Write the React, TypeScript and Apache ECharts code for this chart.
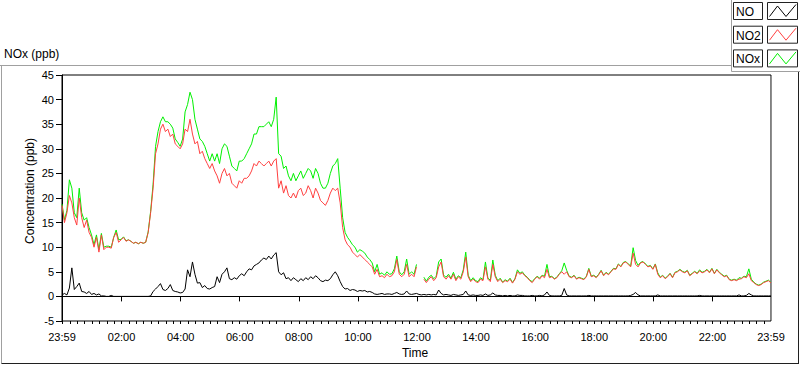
import React, { useEffect, useRef } from "react";
import * as echarts from "echarts";

// Sampling step of the series (minutes after 23:59 of previous day)
const STEP_MIN = 5;

const NO: number[] = [
  0.3, 0.6, 0.3, 1.7, 5.8, 1.4, 2, 2.7, 1, 0.9,
  0.6, 1, 0.4, 0.6, 0.3, 0.5, 0.1, 0.1, 0, 0,
  0.2, 0, 0, 0, 0, 0, 0, 0, 0, 0,
  0, 0, 0, 0, 0, 0, 0.1, 1, 1.5, 2,
  2.6, 1.4, 1.2, 1.6, 2.4, 1.2, 1, 0.9, 0.7, 0.8,
  1.5, 5.4, 4, 7, 4.5, 2.7, 2.8, 1.8, 2.2, 1.6,
  1.5, 1.8, 2, 4, 2.8, 4.5, 5, 5.8, 3.6, 3.4,
  3.8, 3.5, 4.2, 4.6, 4.2, 5, 5.6, 5.4, 6.2, 6.5,
  6.8, 7.4, 7.8, 7.5, 8.2, 7.6, 8.4, 8.9, 5, 4.4,
  4.8, 3.6, 3.8, 3.2, 3.8, 3.4, 3, 3.6, 3.2, 3.8,
  3.4, 4, 3.6, 4.2, 3.8, 3.2, 3, 3.3, 3.2, 3.6,
  4.4, 5, 4.2, 3, 2, 1.5, 1.6, 1.2, 1.4, 1.3,
  1, 1.2, 1.1, 1.2, 0.9, 1, 0.8, 0.5, 0.4, 0.5,
  0.6, 0.4, 0.5, 0.5, 0.4, 0.6, 0.8, 0.5, 0.4, 0.5,
  1.1, 0.5, 0.4, 0.5, 0.6, 0.4, 0.3, 0.4, 0.3, 0.4,
  0.3, 0.4, 0.3, 1.3, 0.6, 0.3, 0.4, 0.3, 0.2, 0.4,
  0.3, 0.2, 0.3, 0.4, 1.1, 0.3, 0.2, 0.3, 0.2, 0.2,
  0.3, 0.2, 0.5, 0.2, 0.3, 0.7, 0.3, 0.2, 0.2, 0.1,
  0.2, 0.1, 0.2, 0.1, 0.1, 0.3, 0.2, 0.2, 0.1, 0.1,
  0.1, 0.2, 0.1, 0.1, 0.2, 0.1, 0.3, 0.9, 0.2, 0.1,
  0.1, 0.1, 0.1, 0.2, 1.6, 0.3, 0.1, 0.1, 0.1, 0.1,
  0.1, 0.1, 0.1, 0.1, 0.2, 0.1, 0.1, 0.1, 0.1, 0.1,
  0.1, 0.1, 0.1, 0.1, 0.1, 0.1, 0.1, 0.1, 0.1, 0.1,
  0.1, 0.2, 0.4, 0.8, 0.3, 0.1, 0.1, 0.1, 0.1, 0.1,
  0.1, 0.1, 0.3, 0.1, 0.1, 0.1, 0.1, 0.1, 0.1, 0.1,
  0.1, 0.1, 0.1, 0.1, 0.1, 0.1, 0.1, 0.1, 0.1, 0.2,
  0.1, 0.1, 0.1, 0.1, 0.1, 0.1, 0.1, 0.1, 0.1, 0.1,
  0.1, 0.1, 0.1, 0.1, 0.1, 0.3, 0.1, 0.1, 0.2, 0.6,
  0.3, 0.1, 0.1, 0.1, 0.1, 0.1, 0.1, 0.1, 0.1,
];

const NO2: (number | null)[] = [
  18.5, 15, 17, 20.5, 19, 16, 14.5, 20, 16, 14,
  15.5, 13, 12, 10, 12, 9, 12.5, 9.5, 10, 10,
  9.8, 12, 13, 11, 11.5, 12, 11.2, 11.5, 11.2, 10.8,
  11, 10.7, 11, 10.8, 11, 13, 17, 22, 29, 31,
  34, 35, 33.5, 34, 32.5, 33, 31, 30.5, 30, 31,
  34, 33.5, 36, 33, 31, 31.5, 29, 29.5, 28, 27,
  26, 27, 25.5, 24.5, 23, 25, 26, 24.5, 25, 23,
  22.5, 22, 23.5, 23, 24, 24, 24.5, 25.5, 27, 26.5,
  27.5, 27, 26.5, 27, 27.5, 26.5, 27.5, 28, 22, 23.5,
  21, 22.5, 20.5, 20, 21, 20, 21.5, 22, 20.5, 21,
  22.5, 21.5, 20, 22, 21, 19.5, 19, 18.5, 19.5, 21,
  22, 21.5, 22, 19, 14, 11.5, 10.5, 10, 9, 8.5,
  8, 8.5, 8, 7.5, 7, 6.5, 6, 4.5, 5.5, 4,
  4.2, 3.8, 4.5, 4, 4.2, 5, 7.5, 4.5, 4, 4.5,
  6.5, 4, 4.5, 4, 6, null, null, 3.5, 2.8, 3.5,
  4, 3.2, 3.8, 6, 7, 4, 3.5, 4.2, 3.5, 4.5,
  3.2, 4, 3.5, 5, 8, 4, 3, 3.5, 3, 2.8,
  3.5, 3.2, 6, 3.5, 3, 6.5, 4, 3, 3.5, 2.8,
  3.2, 3, 3.5, 2.7, 3.5, 5, 4.5, 4.8, 4.2, 3.8,
  3.2, 2.8, 3.5, 4, 3.5, 4.2, 3.8, 5.5, 3.8, 4,
  3.5, 3.8, 4.5, 5, 4.5, 5, 4, 3.8, 4.2, 3.5,
  3.8, 3.6, 3.4, 4, 5.5, 4, 4.2, 3.8, 4.4, 5.2,
  4.2, 4.8, 4.4, 5, 5.6, 5.5, 6.5, 6, 6.8, 7,
  6.5, 6, 8.8, 6.5, 6, 6.8, 7, 6.5, 6, 6.2,
  5.5, 6.5, 4.5, 3.8, 4.2, 3.6, 4, 4.6, 3.8, 4.8,
  5, 5.4, 5, 4.8, 5.2, 4.2, 4.6, 5, 4.6, 5.2,
  4.8, 5, 5.4, 4.8, 5.6, 4.6, 5.4, 4.8, 4.4, 4,
  4.2, 3.4, 3.2, 3.4, 3.2, 3.5, 3.6, 4, 3.8, 4.6,
  3.2, 2.8, 2.4, 2.2, 2.4, 2.8, 3, 3.2, 2.7,
];

const NOX: (number | null)[] = [
  18.8, 15.5, 17.5, 23.7, 22, 17, 16, 22, 17, 15.5,
  16, 14, 12.5, 10.5, 12.5, 9.5, 12.8, 10, 10.2, 10.2,
  10, 12, 13.5, 11.5, 11.6, 12.1, 11.3, 11.5, 11.2, 10.8,
  11, 10.7, 11, 10.8, 11, 13.1, 17.3, 22.8, 30.5, 33.5,
  35.5, 36.5, 35.5, 35.5, 35, 34.2, 32, 31.3, 30.5, 32,
  37.5, 39, 41.5, 40, 36, 34, 32, 31.5, 30.5, 29,
  27.5, 29, 27.5, 29, 27, 30, 31, 30.5, 28.5, 26.5,
  26, 25.5, 27.5, 27.5, 28, 29, 30, 31, 33, 33,
  34.5, 34.5, 34.5, 35, 35.5, 34.5, 36, 40.5, 29, 28.5,
  26, 26.5, 24.5, 23.5, 25, 23.5, 24.5, 25.5, 24, 25,
  26, 25.5, 24, 26, 25, 23, 22, 22, 23, 25,
  26.5, 27, 28, 22, 16, 13, 12, 11.3, 10.5, 10,
  9, 9.5, 9.2, 8.8, 8, 7.5, 6.8, 5, 6.5, 4.5,
  4.8, 4.3, 5, 4.5, 4.6, 5.6, 8.2, 5, 4.4, 5,
  7.6, 4.5, 5, 4.5, 6.5, null, null, 3.9, 3.1, 3.9,
  4.3, 3.6, 4.1, 7, 7.6, 4.3, 3.9, 4.5, 3.7, 4.9,
  3.5, 4.2, 3.8, 5.4, 9, 4.3, 3.2, 3.8, 3.2, 3,
  3.8, 3.4, 7, 3.7, 3.3, 7.4, 4.3, 3.2, 3.7, 2.9,
  3.4, 3.1, 3.7, 2.8, 3.6, 5.4, 4.7, 5, 4.3, 3.9,
  3.3, 3, 3.6, 4.1, 3.7, 4.3, 4.1, 6.5, 4, 4.1,
  3.6, 3.9, 4.6, 5.2, 6.8, 5.3, 4.1, 3.9, 4.3, 3.6,
  3.9, 3.7, 3.5, 4.1, 5.7, 4.1, 4.3, 3.9, 4.5, 5.3,
  4.3, 4.9, 4.5, 5.1, 5.7, 5.6, 6.6, 6.1, 6.9, 7.1,
  6.6, 6.2, 9.9, 7.3, 6.3, 6.9, 7.1, 6.6, 6.1, 6.3,
  5.6, 6.6, 4.8, 3.9, 4.3, 3.7, 4.1, 4.7, 3.9, 4.9,
  5.1, 5.5, 5.1, 4.9, 5.3, 4.3, 4.7, 5.1, 4.7, 5.4,
  4.9, 5.1, 5.5, 4.9, 5.7, 4.7, 5.5, 4.9, 4.5, 4.1,
  4.3, 3.5, 3.3, 3.5, 3.3, 3.8, 3.7, 4.1, 4, 5.6,
  3.5, 2.9, 2.5, 2.3, 2.5, 2.9, 3.1, 3.3, 2.8,
];

// X axis: minutes after 23:59
const X_MIN = 0;
const X_MAX = 1440;
const MAJOR_TICKS = [0, 121, 241, 361, 481, 601, 721, 841, 961, 1081, 1201, 1321, 1440];
const MAJOR_LABELS = [
  "23:59", "02:00", "04:00", "06:00", "08:00", "10:00", "12:00",
  "14:00", "16:00", "18:00", "20:00", "22:00", "23:59",
];
const MINOR_TICKS = Array.from({ length: 96 }, (_, k) => 1 + 15 * k);

const Y_MIN = -5;
const Y_MAX = 45;
const Y_STEP = 5;

const LEGEND = [
  { name: "NO", color: "#000000" },
  { name: "NO2", color: "#ff4040" },
  { name: "NOx", color: "#00f000" },
];

const FONT = "'Liberation Sans', Arial, sans-serif";

export default function App() {
  const ref = useRef<HTMLDivElement>(null);

  useEffect(() => {
    if (!ref.current) return;
    const chart = echarts.init(ref.current, undefined, { renderer: "svg" });

    const toData = (arr: (number | null)[]) =>
      arr.map((v, i) => [X_MIN + i * STEP_MIN, v]);

    const seriesLine = (name: string, data: (number | null)[], color: string, z: number) => ({
      name,
      type: "line",
      data: toData(data),
      showSymbol: false,
      symbol: "none",
      connectNulls: false,
      sampling: undefined,
      lineStyle: { color, width: 1 },
      itemStyle: { color },
      z,
      silent: true,
    });

    const legendGraphics: any[] = [];
    LEGEND.forEach((item, i) => {
      const top = 2 + i * 23.7;
      legendGraphics.push(
        {
          type: "rect",
          shape: { x: 733.5, y: top + 0.5, width: 29, height: 17 },
          style: { fill: "#fff", stroke: "#222", lineWidth: 1 },
        },
        {
          type: "text",
          x: 736,
          y: top + 10,
          style: {
            text: item.name,
            fontSize: 12,
            fontFamily: FONT,
            fill: "#000",
            verticalAlign: "middle",
            align: "left",
          },
        },
        {
          type: "rect",
          shape: { x: 767.5, y: top + 0.5, width: 30, height: 17 },
          style: { fill: "#fff", stroke: "#222", lineWidth: 1 },
        },
        {
          type: "polyline",
          shape: {
            points: [
              [769.5, top + 14.5],
              [777.5, top + 4],
              [786, top + 14.5],
              [796, top + 2.5],
            ],
          },
          style: { stroke: item.color, lineWidth: 1, fill: null },
        }
      );
    });

    const option: any = {
      animation: false,
      backgroundColor: "#fff",
      textStyle: { fontFamily: FONT },
      grid: {
        left: 62,
        right: 29,
        top: 75,
        bottom: 44,
        show: true,
        borderColor: "#000",
        borderWidth: 1,
        backgroundColor: "#fff",
      },
      xAxis: [
        {
          type: "value",
          position: "bottom",
          min: X_MIN,
          max: X_MAX,
          axisLine: { show: true, lineStyle: { color: "#000", width: 1 } },
          axisTick: {
            show: true,
            customValues: MAJOR_TICKS,
            length: 5,
            lineStyle: { color: "#000" },
          },
          axisLabel: {
            show: true,
            customValues: MAJOR_TICKS,
            formatter: (v: number) => {
              const idx = MAJOR_TICKS.indexOf(Math.round(v));
              return idx >= 0 ? MAJOR_LABELS[idx] : "";
            },
            color: "#000",
            fontSize: 11,
            fontFamily: FONT,
            margin: 10,
            showMinLabel: true,
            showMaxLabel: true,
          },
          splitLine: { show: false },
        },
        {
          type: "value",
          position: "bottom",
          min: X_MIN,
          max: X_MAX,
          axisLine: { show: false },
          axisTick: {
            show: true,
            customValues: MINOR_TICKS,
            length: 3,
            lineStyle: { color: "#000" },
          },
          axisLabel: { show: false },
          splitLine: { show: false },
        },
      ],
      yAxis: {
        type: "value",
        min: Y_MIN,
        max: Y_MAX,
        interval: Y_STEP,
        axisLine: { show: true, lineStyle: { color: "#000", width: 1 } },
        axisTick: { show: true, length: 6, lineStyle: { color: "#000" } },
        axisLabel: {
          color: "#000",
          fontSize: 11,
          fontFamily: FONT,
          margin: 8,
        },
        splitLine: { show: false },
      },
      series: [
        seriesLine("NOx", NOX, LEGEND[2].color, 2),
        seriesLine("NO2", NO2, LEGEND[1].color, 3),
        seriesLine("NO", NO, LEGEND[0].color, 4),
      ],
      graphic: [
        // outer frame
        {
          type: "line",
          shape: { x1: 0, y1: 65.5, x2: 731.5, y2: 65.5 },
          style: { stroke: "#a0a0a0", lineWidth: 1 },
        },
        {
          type: "line",
          shape: { x1: 1.5, y1: 65.5, x2: 1.5, y2: 363.5 },
          style: { stroke: "#a0a0a0", lineWidth: 1 },
        },
        {
          type: "line",
          shape: { x1: 1.5, y1: 363.5, x2: 799, y2: 363.5 },
          style: { stroke: "#202020", lineWidth: 1 },
        },
        {
          type: "line",
          shape: { x1: 798.5, y1: 71.5, x2: 798.5, y2: 364 },
          style: { stroke: "#202020", lineWidth: 1 },
        },
        // legend frame
        {
          type: "line",
          shape: { x1: 731.5, y1: 0, x2: 731.5, y2: 71.5 },
          style: { stroke: "#a0a0a0", lineWidth: 1 },
        },
        {
          type: "line",
          shape: { x1: 731.5, y1: 71.5, x2: 800, y2: 71.5 },
          style: { stroke: "#a0a0a0", lineWidth: 1 },
        },
        // right border of plot area (grey)
        {
          type: "line",
          shape: { x1: 771.5, y1: 75.5, x2: 771.5, y2: 321 },
          style: { stroke: "#909090", lineWidth: 1 },
          z: 10,
        },
        // title
        {
          type: "text",
          x: 4,
          y: 54,
          style: {
            text: "NOx (ppb)",
            fontSize: 12,
            fontFamily: FONT,
            fill: "#000",
            verticalAlign: "middle",
          },
        },
        // y axis name
        {
          type: "text",
          x: 30,
          y: 191,
          rotation: Math.PI / 2,
          style: {
            text: "Concentration (ppb)",
            fontSize: 12,
            fontFamily: FONT,
            fill: "#000",
            align: "center",
            verticalAlign: "middle",
          },
        },
        // x axis name
        {
          type: "text",
          x: 415,
          y: 353,
          style: {
            text: "Time",
            fontSize: 12,
            fontFamily: FONT,
            fill: "#000",
            align: "center",
            verticalAlign: "middle",
          },
        },
        ...legendGraphics,
      ],
    };

    chart.setOption(option);
    return () => chart.dispose();
  }, []);

  return (
    <div
      ref={ref}
      style={{ position: "fixed", left: 0, top: 0, width: 800, height: 365, background: "#fff" }}
    />
  );
}
